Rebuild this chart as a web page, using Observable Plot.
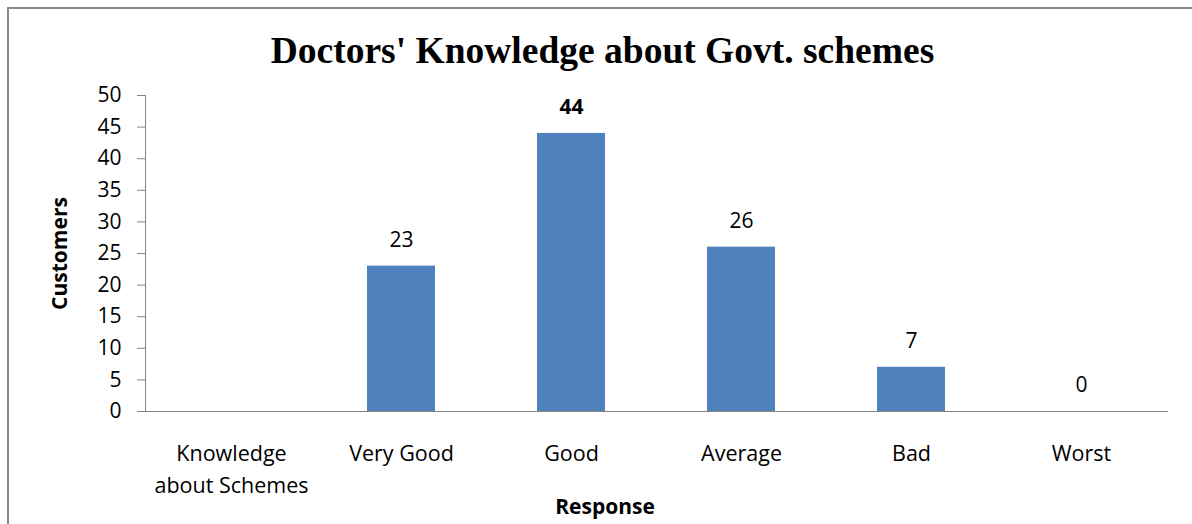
<!DOCTYPE html>
<html>
<head>
<meta charset="utf-8">
<script src="https://cdn.jsdelivr.net/npm/d3@7"></script>
<script src="https://cdn.jsdelivr.net/npm/@observablehq/plot@0.6"></script>
<style>
  body { margin: 0; background: #fff; }
  #wrap { position: relative; width: 1192px; height: 524px; overflow: hidden; background: #fff; }
  #border { position: absolute; left: 7px; top: 7px; width: 2000px; height: 2000px;
            border-left: 2px solid #8a8a8a; border-top: 2px solid #8a8a8a; }
  #title { position: absolute; left: 0; top: 32px; width: 1205px; height: 37px; line-height: 37px;
           text-align: center; font-family: "Liberation Serif", "Times New Roman", serif;
           font-weight: bold; font-size: 37.5px; color: #000; white-space: nowrap; }
  #chart { position: absolute; left: 0; top: 80px; }
</style>
</head>
<body>
<div id="wrap">
  <div id="border"></div>
  <div id="title">Doctors' Knowledge about Govt. schemes</div>
  <div id="chart"></div>
</div>
<script>
const categories = ["Knowledge about Schemes", "Very Good", "Good", "Average", "Bad", "Worst"];
const tickLabels = ["Knowledge\nabout Schemes", "Very Good", "Good", "Average", "Bad", "Worst"];
const values = [null, 23, 44, 26, 7, 0];
const boldLabels = ["Good"];
const yTicks = [0, 5, 10, 15, 20, 25, 30, 35, 40, 45, 50];
const yLabel = "Customers";
const xLabel = "Response";

const data = categories.map((c, i) => ({cat: c, value: values[i]}));
const labelled = data.filter(d => d.value != null);
const labelOf = new Map(categories.map((c, i) => [c, tickLabels[i]]));

const font = "'Open Sans', sans-serif";
const chart = Plot.plot({
  width: 1192,
  height: 444,
  marginTop: 15,
  marginBottom: 113,
  marginLeft: 145,
  marginRight: 24,
  style: {fontFamily: font, fontSize: "21px", color: "#000", background: "transparent", overflow: "visible"},
  x: {domain: categories, paddingInner: 0.6, paddingOuter: 0.3, axis: null},
  y: {domain: [0, 50], axis: null},
  marks: [
    Plot.barY(data, {x: "cat", y: "value", fill: "#4F81BD"}),
    Plot.frame({anchor: "left", stroke: "#868686"}),
    Plot.ruleY([0], {stroke: "#868686"}),
    Plot.axisY({ticks: yTicks, tickSize: 8, tickPadding: 16, stroke: "#868686", fill: "#000", fontSize: 21, label: null}),
    Plot.axisX({tickSize: 0, tickPadding: 26, fontSize: 21.5, lineHeight: 1.52, fill: "#000", label: null,
                tickFormat: d => labelOf.get(d)}),
    Plot.text(labelled.filter(d => !boldLabels.includes(d.cat)), {x: "cat", y: "value", text: d => String(d.value), dy: -26, fontSize: 21, fill: "#000"}),
    Plot.text(labelled.filter(d => boldLabels.includes(d.cat)), {x: "cat", y: "value", text: d => String(d.value), dy: -26, fontSize: 21, fontWeight: "bold", fill: "#000"}),
    Plot.text([yLabel], {text: d => d, frameAnchor: "left", rotate: -90, dx: -85, textAnchor: "middle", lineAnchor: "middle", fontSize: 21, fontWeight: "bold", fill: "#000"}),
    Plot.text([xLabel], {text: d => d, frameAnchor: "bottom", dx: -52, dy: 96, textAnchor: "middle", lineAnchor: "middle", fontSize: 21, fontWeight: "bold", fill: "#000"})
  ]
});
document.getElementById("chart").appendChild(chart);
</script>
</body>
</html>
